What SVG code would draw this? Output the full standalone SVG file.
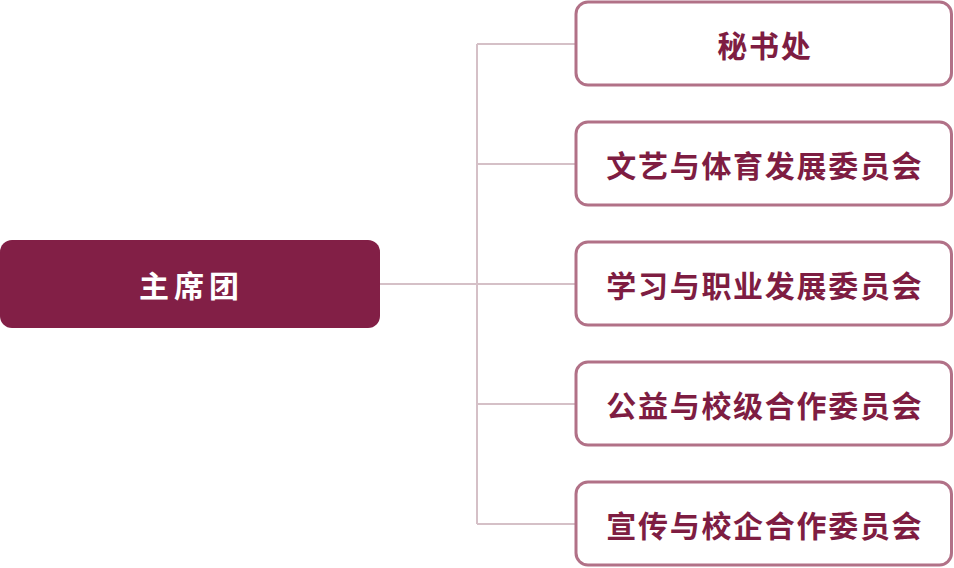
<svg xmlns="http://www.w3.org/2000/svg" width="954" height="568" viewBox="0 0 954 568">
<style>
.main rect{fill:#821F46}
.main text{fill:#ffffff;font-family:"Noto Sans CJK SC","Noto Sans",sans-serif;font-size:30px;font-weight:700;letter-spacing:5px;text-anchor:middle;dominant-baseline:central}
.child rect{fill:#ffffff;stroke:#B17187;stroke-width:3}
.child text{fill:#7E1D42;font-family:"Noto Sans CJK SC","Noto Sans",sans-serif;font-size:30px;font-weight:700;letter-spacing:1.7px;text-anchor:middle;dominant-baseline:central}
.conn{fill:none;stroke:#D5C0C7;stroke-width:2}
</style>
<rect width="954" height="568" fill="#ffffff"/>
<g id="connectors" class="conn">
<path d="M380 284H575"/>
<path d="M477 44V524"/>
<path d="M477 44H575M477 164H575M477 404H575M477 524H575"/>
</g>
<g id="n0" class="main"><rect x="0" y="240" width="380" height="88" rx="12"/><text x="191.5" y="284">主席团</text></g>
<g id="n1" class="child"><rect x="576" y="2" width="375.5" height="83" rx="12"/><text x="764.8" y="44">秘书处</text></g>
<g id="n2" class="child"><rect x="576" y="122" width="375.5" height="83" rx="12"/><text x="764.8" y="164">文艺与体育发展委员会</text></g>
<g id="n3" class="child"><rect x="576" y="242" width="375.5" height="83" rx="12"/><text x="764.8" y="284">学习与职业发展委员会</text></g>
<g id="n4" class="child"><rect x="576" y="362" width="375.5" height="83" rx="12"/><text x="764.8" y="404">公益与校级合作委员会</text></g>
<g id="n5" class="child"><rect x="576" y="482" width="375.5" height="83" rx="12"/><text x="764.8" y="524">宣传与校企合作委员会</text></g>
</svg>
